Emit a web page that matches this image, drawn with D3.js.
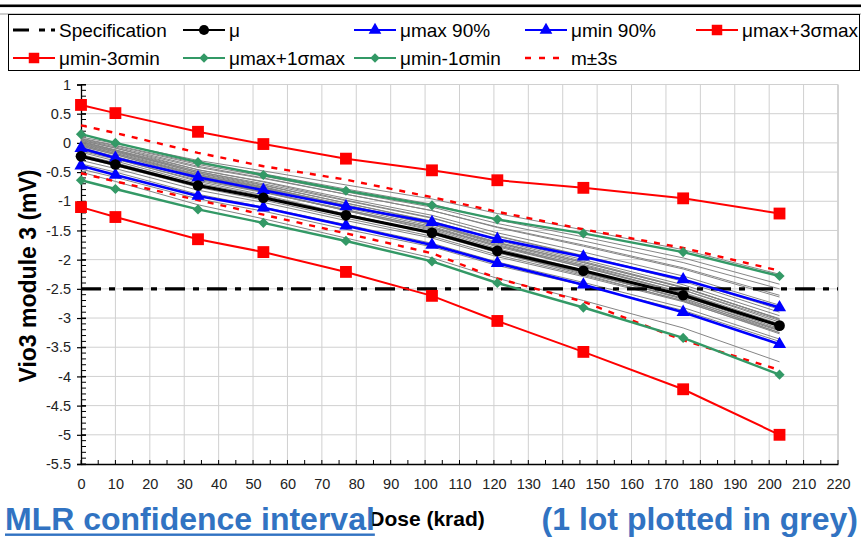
<!DOCTYPE html>
<html>
<head>
<meta charset="utf-8">
<script src="https://cdn.jsdelivr.net/npm/d3@7"></script>
<style>
  body { margin: 0; background: #fff; }
  svg { display: block; font-family: "Liberation Sans", Arial, sans-serif; }
</style>
</head>
<body>
<svg id="chart" width="861" height="539"></svg>
<script>
// Dose steps (krad)
const dose = [0, 10, 34, 53, 77, 102, 121, 146, 175, 203];

// Summary curves (mV)
const mu          = [-0.23, -0.37, -0.73, -0.94, -1.24, -1.54, -1.85, -2.19, -2.61, -3.13];
const muMax90     = [-0.09, -0.26, -0.59, -0.81, -1.09, -1.36, -1.65, -1.95, -2.34, -2.82];
const muMin90     = [-0.39, -0.55, -0.91, -1.11, -1.42, -1.75, -2.06, -2.43, -2.90, -3.45];
const muMax3Sigma = [0.65, 0.51, 0.19, -0.02, -0.27, -0.47, -0.64, -0.77, -0.95, -1.21];
const muMin3Sigma = [-1.10, -1.27, -1.65, -1.87, -2.21, -2.62, -3.05, -3.58, -4.22, -5.00];
const muMax1Sigma = [0.15, 0.00, -0.33, -0.55, -0.82, -1.07, -1.31, -1.55, -1.87, -2.28];
const muMin1Sigma = [-0.64, -0.79, -1.14, -1.37, -1.68, -2.03, -2.40, -2.82, -3.34, -3.97];
const mPlus3s     = [0.30, 0.17, -0.17, -0.40, -0.63, -0.93, -1.18, -1.48, -1.80, -2.19];
const mMinus3s    = [-0.52, -0.66, -0.98, -1.23, -1.55, -1.89, -2.32, -2.72, -3.38, -3.89];
const specLimit   = -2.5;

// Individual parts of the lot (mV)
const lotParts = [
  [0.10, -0.01, -0.30, -0.48, -0.72, -0.96, -1.21, -1.49, -1.83, -2.25],
  [0.08, -0.04, -0.35, -0.53, -0.79, -1.05, -1.32, -1.61, -1.97, -2.42],
  [0.07, -0.05, -0.37, -0.57, -0.84, -1.10, -1.38, -1.68, -2.05, -2.50],
  [0.06, -0.07, -0.40, -0.60, -0.88, -1.16, -1.45, -1.77, -2.16, -2.64],
  [0.05, -0.09, -0.46, -0.67, -0.98, -1.28, -1.60, -1.94, -2.37, -2.90],
  [0.04, -0.09, -0.42, -0.61, -0.88, -1.16, -1.44, -1.75, -2.14, -2.61],
  [0.03, -0.12, -0.49, -0.72, -1.03, -1.35, -1.67, -2.03, -2.47, -3.02],
  [0.02, -0.13, -0.52, -0.75, -1.08, -1.40, -1.74, -2.11, -2.57, -3.13],
  [0.01, -0.12, -0.46, -0.66, -0.95, -1.24, -1.54, -1.87, -2.28, -2.78],
  [0.00, -0.14, -0.49, -0.70, -0.99, -1.29, -1.59, -1.93, -2.34, -2.85],
  [-0.01, -0.15, -0.51, -0.73, -1.03, -1.34, -1.65, -2.00, -2.43, -2.96],
  [-0.02, -0.16, -0.54, -0.76, -1.06, -1.38, -1.70, -2.05, -2.48, -3.02],
  [-0.03, -0.18, -0.56, -0.79, -1.11, -1.43, -1.76, -2.13, -2.58, -3.13],
  [-0.04, -0.18, -0.55, -0.77, -1.08, -1.40, -1.72, -2.08, -2.52, -3.07],
  [-0.05, -0.20, -0.60, -0.83, -1.16, -1.50, -1.84, -2.21, -2.68, -3.25],
  [-0.06, -0.20, -0.57, -0.78, -1.09, -1.39, -1.71, -2.05, -2.48, -3.01],
  [-0.08, -0.23, -0.61, -0.84, -1.16, -1.48, -1.81, -2.18, -2.63, -3.18],
  [-0.10, -0.24, -0.62, -0.84, -1.14, -1.46, -1.78, -2.13, -2.56, -3.10],
  [-0.12, -0.27, -0.66, -0.89, -1.22, -1.54, -1.88, -2.25, -2.71, -3.27],
  [-0.14, -0.28, -0.64, -0.85, -1.15, -1.45, -1.76, -2.10, -2.52, -3.04],
  [-0.16, -0.31, -0.69, -0.91, -1.22, -1.54, -1.87, -2.22, -2.66, -3.21],
  [-0.20, -0.34, -0.72, -0.94, -1.24, -1.56, -1.88, -2.23, -2.66, -3.20],
  [-0.25, -0.39, -0.76, -0.98, -1.29, -1.60, -1.92, -2.27, -2.70, -3.22],
  [-0.30, -0.44, -0.81, -1.02, -1.33, -1.63, -1.95, -2.29, -2.72, -3.25],
  [-0.36, -0.50, -0.88, -1.10, -1.40, -1.72, -2.04, -2.39, -2.82, -3.36],
  [-0.45, -0.59, -0.96, -1.17, -1.48, -1.78, -2.10, -2.44, -2.87, -3.40],
  [-0.50, -0.66, -1.06, -1.30, -1.63, -1.97, -2.32, -2.70, -3.17, -3.75]
];

// Axis ticks
const xTicks = [0, 10, 20, 30, 40, 50, 60, 70, 80, 90, 100, 110, 120, 130, 140, 150, 160, 170, 180, 190, 200, 210, 220];
const yTicks = [1, 0.5, 0, -0.5, -1, -1.5, -2, -2.5, -3, -3.5, -4, -4.5, -5, -5.5];

const svg = d3.select("#chart");
const x = d3.scaleLinear().domain([0, 220]).range([81, 838]);
const y = d3.scaleLinear().domain([-5.5, 1]).range([464, 84.5]);

// Header rule and legend frame
svg.append("rect").attr("x", 0).attr("y", 4.5).attr("width", 861).attr("height", 2.6).attr("fill", "#000");
svg.append("line").attr("x1", 0).attr("x2", 861).attr("y1", 14).attr("y2", 14).attr("stroke", "#9a9a9a").attr("stroke-width", 1);
svg.append("rect").attr("x", 8.5).attr("y", 14.5).attr("width", 851).attr("height", 56)
  .attr("fill", "none").attr("stroke", "#000").attr("stroke-width", 1);

// Grid
const grid = svg.append("g");
grid.selectAll(".gx").data(xTicks.filter(d => d > 0)).join("line")
  .attr("x1", d => x(d)).attr("x2", d => x(d)).attr("y1", y(1)).attr("y2", y(-5.5))
  .attr("stroke", d => d === 220 ? "#a8a8a8" : "#d0d0d0").attr("stroke-width", 1);
grid.selectAll(".gy").data(yTicks.filter(d => d > -5.5)).join("line")
  .attr("x1", x(0)).attr("x2", x(220)).attr("y1", d => y(d)).attr("y2", d => y(d))
  .attr("stroke", "#d0d0d0").attr("stroke-width", 1);

// Axes
const yAxis = svg.append("g").attr("transform", `translate(${x(0)},0)`)
  .call(d3.axisLeft(y).tickValues(yTicks).tickFormat(d => String(d)).tickSize(4).tickPadding(6));
const xAxis = svg.append("g").attr("transform", `translate(0,${y(-5.5)})`)
  .call(d3.axisBottom(x).tickValues(xTicks).tickFormat(d => String(d)).tickSize(0).tickPadding(15));
[yAxis, xAxis].forEach(a => {
  a.select(".domain").attr("stroke", "#000").attr("stroke-width", 1.3);
  a.selectAll(".tick line").attr("stroke", "#000").attr("stroke-width", 1.2);
  a.selectAll("text").attr("font-size", 14.5).attr("fill", "#222")
    .attr("font-family", "'Liberation Sans', Arial, sans-serif");
});
yAxis.selectAll(".tick line").attr("x1", 5);
// minor ticks
const yMinor = d3.range(-55, 11).map(d => d / 10);
svg.append("g").selectAll("line").data(yMinor).join("line")
  .attr("x1", x(0)).attr("x2", x(0) + 5).attr("y1", d => y(d)).attr("y2", d => y(d))
  .attr("stroke", "#000").attr("stroke-width", 1);
const xMinor = d3.range(0, 225, 5);
svg.append("g").selectAll("line").data(xMinor).join("line")
  .attr("x1", d => x(d)).attr("x2", d => x(d)).attr("y1", y(-5.5)).attr("y2", y(-5.5) - 4)
  .attr("stroke", "#000").attr("stroke-width", 1);

const line = d3.line().x((d, i) => x(dose[i])).y(d => y(d));
const plot = svg.append("g");

// Lot parts in grey
plot.selectAll(".part").data(lotParts).join("path")
  .attr("d", line).attr("fill", "none").attr("stroke", "#858585").attr("stroke-width", 1);

// Specification limit
plot.append("line").attr("x1", x(0)).attr("x2", x(220)).attr("y1", y(specLimit)).attr("y2", y(specLimit))
  .attr("stroke", "#000").attr("stroke-width", 3.2).attr("stroke-dasharray", "20,8,6,8");

const sym = (type, size) => d3.symbol().type(type).size(size)();
// diamonds are squares turned by 45 degrees
const markerTransform = (m, px, py) => `translate(${px},${py})` + (m.rotate ? " rotate(45)" : "");
const DIAMOND = { type: d3.symbolSquare, rotate: true };
const series = [
  { name: "m±3s", data: mPlus3s, color: "#ff0000", width: 2.4, dash: "6,7", marker: null },
  { name: "m±3s", data: mMinus3s, color: "#ff0000", width: 2.4, dash: "6,7", marker: null },
  { name: "μmax+3σmax", data: muMax3Sigma, color: "#ff0000", width: 2, marker: { type: d3.symbolSquare }, size: 140 },
  { name: "μmin-3σmin", data: muMin3Sigma, color: "#ff0000", width: 2, marker: { type: d3.symbolSquare }, size: 140 },
  { name: "μmax+1σmax", data: muMax1Sigma, color: "#339966", width: 2.4, marker: DIAMOND, size: 52 },
  { name: "μmin-1σmin", data: muMin1Sigma, color: "#339966", width: 2.4, marker: DIAMOND, size: 52 },
  { name: "μmax 90%", data: muMax90, color: "#0000ff", width: 2.6, marker: { type: d3.symbolTriangle }, size: 75 },
  { name: "μmin 90%", data: muMin90, color: "#0000ff", width: 2.6, marker: { type: d3.symbolTriangle }, size: 75 },
  { name: "μ", data: mu, color: "#000000", width: 3.2, marker: { type: d3.symbolCircle }, size: 90 }
];
series.forEach(s => {
  plot.append("path").attr("d", line(s.data)).attr("fill", "none")
    .attr("stroke", s.color).attr("stroke-width", s.width)
    .attr("stroke-dasharray", s.dash || null);
  if (s.marker) {
    plot.append("g").selectAll("path").data(s.data).join("path")
      .attr("transform", (d, i) => markerTransform(s.marker, x(dose[i]), y(d)))
      .attr("d", sym(s.marker.type, s.size)).attr("fill", s.color);
  }
});

// Legend
const legendItems = [
  { label: "Specification", color: "#000", width: 3.2, dash: "16,10,6,6", marker: null, col: 0, row: 0 },
  { label: "μ", color: "#000", width: 2, marker: { type: d3.symbolCircle }, size: 80, col: 1, row: 0 },
  { label: "μmax 90%", color: "#0000ff", width: 2, marker: { type: d3.symbolTriangle }, size: 70, col: 2, row: 0 },
  { label: "μmin 90%", color: "#0000ff", width: 2, marker: { type: d3.symbolTriangle }, size: 70, col: 3, row: 0 },
  { label: "μmax+3σmax", color: "#ff0000", width: 2, marker: { type: d3.symbolSquare }, size: 110, col: 4, row: 0 },
  { label: "μmin-3σmin", color: "#ff0000", width: 2, marker: { type: d3.symbolSquare }, size: 110, col: 0, row: 1 },
  { label: "μmax+1σmax", color: "#339966", width: 2, marker: DIAMOND, size: 45, col: 1, row: 1 },
  { label: "μmin-1σmin", color: "#339966", width: 2, marker: DIAMOND, size: 45, col: 2, row: 1 },
  { label: "m±3s", color: "#ff0000", width: 2.6, dash: "6,8", marker: null, col: 3, row: 1 }
];
const colX = [13, 183, 354, 525, 696];
const rowY = [30, 58];
const legend = svg.append("g");
legendItems.forEach(it => {
  const x0 = colX[it.col], yy = rowY[it.row];
  legend.append("line").attr("x1", x0).attr("x2", x0 + 42).attr("y1", yy).attr("y2", yy)
    .attr("stroke", it.color).attr("stroke-width", it.width).attr("stroke-dasharray", it.dash || null);
  if (it.marker) {
    legend.append("path").attr("transform", markerTransform(it.marker, x0 + 21, yy))
      .attr("d", sym(it.marker.type, it.size)).attr("fill", it.color);
  }
  legend.append("text").attr("x", x0 + 46).attr("y", yy).attr("dy", "0.35em")
    .attr("font-size", 19).attr("fill", "#000").text(it.label);
});

// Axis titles
svg.append("text").attr("transform", "translate(36,276) rotate(-90)")
  .attr("text-anchor", "middle").attr("font-weight", "bold").attr("font-size", 23)
  .attr("fill", "#000").text("Vio3 module 3 (mV)");
svg.append("text").attr("x", 427).attr("y", 526).attr("text-anchor", "middle")
  .attr("font-weight", "bold").attr("font-size", 21).attr("fill", "#000").text("Dose (krad)");

// Captions
const cap = svg.append("text").attr("x", 5).attr("y", 530)
  .attr("font-weight", "bold").attr("font-size", 32).attr("fill", "#3173c2").text("MLR confidence interval");
const capLen = cap.node().getComputedTextLength();
svg.append("rect").attr("x", 5).attr("y", 533.5).attr("width", capLen).attr("height", 2.4).attr("fill", "#3173c2");
svg.append("text").attr("x", 858).attr("y", 530).attr("text-anchor", "end")
  .attr("font-weight", "bold").attr("font-size", 32).attr("fill", "#3173c2").text("(1 lot plotted in grey)");
</script>
</body>
</html>
